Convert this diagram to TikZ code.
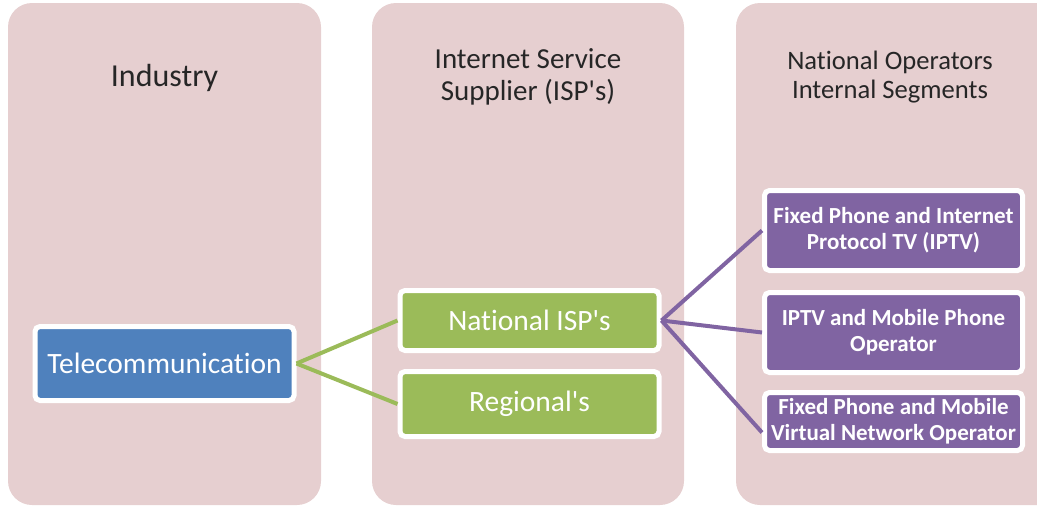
\documentclass[tikz,border=0pt]{standalone}
\usepackage{fontspec}
\setmainfont{Carlito}[Ligatures=NoCommon]
\usepackage{tikz}
\definecolor{colbg}{RGB}{230,207,208}
\definecolor{telblue}{RGB}{79,129,189}
\definecolor{ispgreen}{RGB}{155,187,89}
\definecolor{segpurple}{RGB}{128,100,162}

\begin{document}
\begin{tikzpicture}[x=1pt, y=-1pt,
    column/.style={fill=colbg, rounded corners=24pt},
    heading/.style={align=center, text=black!85},
    box/.style={draw=white, line width=5pt, rounded corners=5pt, text=white,
        align=center, inner sep=0pt, minimum width=259pt,
        font=\fontsize{29.5}{34}\selectfont},
    segbox/.style={box, fill=segpurple, minimum width=258pt,
        font=\bfseries\fontsize{23}{26}\selectfont},
    link/.style={line width=4pt}]
    \useasboundingbox (0,0) rectangle (1037,506);
    \clip (0,0) rectangle (1037,506);

    % the three columns
    \fill[column] (8,3) rectangle (321,505);
    \fill[column] (372,3) rectangle (684,505);
    \fill[column] (736,3) rectangle (1070,505);

    \node[heading, font=\fontsize{32}{36}\selectfont] (industry) at (164.5,78) {Industry};
    \node[heading, font=\fontsize{29}{32}\selectfont] (isp) at (528,77) {Internet Service\\Supplier (ISP\textquotesingle s)};
    \node[heading, font=\fontsize{26.6}{29}\selectfont] (segments) at (890,77) {National Operators\\Internal Segments};

    \node[box, fill=telblue, minimum height=74pt] (tel) at (164.5,363.5) {Telecommunication};
    \node[box, fill=ispgreen, minimum height=60pt] (nat) at (529.5,320.5) {National ISP\textquotesingle s};
    \node[box, fill=ispgreen, minimum height=65pt] (reg) at (529.5,404) {Regional\textquotesingle s};

    \node[segbox, minimum height=80pt] (s1) at (893.5,230.5) {Fixed Phone and Internet\\Protocol TV (IPTV)};
    \node[segbox, minimum height=80pt] (s2) at (893.5,332.5) {IPTV and Mobile Phone\\Operator};
    \node[segbox, minimum height=58pt] (s3) at (893.5,421.5) {Fixed Phone and Mobile\\Virtual Network Operator};

    \draw[link, ispgreen] (tel.east) -- (nat.west);
    \draw[link, ispgreen] (tel.east) -- (reg.west);
    \draw[link, segpurple] (nat.east) -- (s1.west);
    \draw[link, segpurple] (nat.east) -- (s2.west);
    \draw[link, segpurple] (nat.east) -- ([yshift=-11pt]s3.west);
\end{tikzpicture}
\end{document}
